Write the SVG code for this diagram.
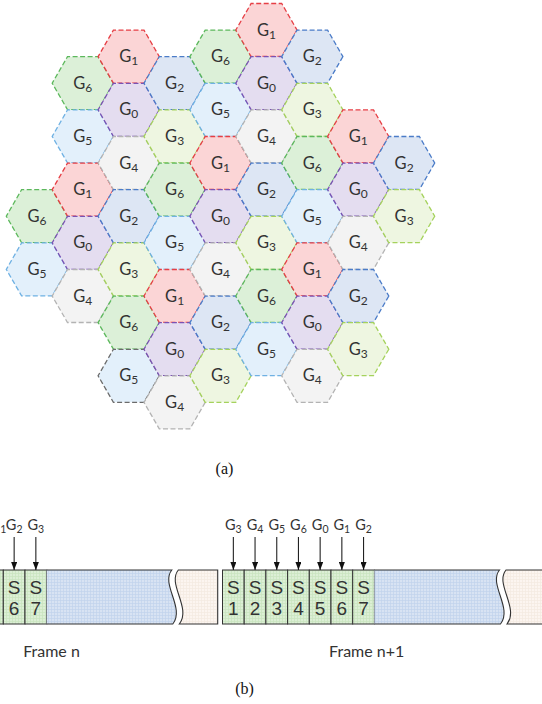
<svg xmlns="http://www.w3.org/2000/svg" xmlns:xlink="http://www.w3.org/1999/xlink" width="542" height="704" viewBox="0 0 542 704">
<style>
.hx{stroke-width:1.3;stroke-dasharray:5 2.5}
.g0{fill:#e4ddf0;stroke:#7a52b3}
.g1{fill:#fbd5d6;stroke:#e63f45}
.g2{fill:#dde6f4;stroke:#4b7cc8}
.g3{fill:#eef6e1;stroke:#a5d25c}
.g4{fill:#f3f3f3;stroke:#b3b3b3}
.g5{fill:#e3f0fb;stroke:#6fb1e3}
.g6{fill:#dcf0d8;stroke:#5cb85c}
.lbl{font-family:Lato,"Liberation Sans",sans-serif;font-size:16.5px;fill:#333;text-anchor:middle}
.sub{font-size:12px}
.glbl{font-family:Lato,"Liberation Sans",sans-serif;font-size:14.5px;fill:#333;text-anchor:middle}
.gsub{font-size:10.5px}
.slot{fill:url(#pg);stroke:#333;stroke-width:1}
.st{font-family:"Liberation Sans",Arial,sans-serif;font-size:19px;fill:#333;text-anchor:middle}
.edge{fill:none;stroke:#333;stroke-width:1.1}
.arr{stroke:#222;stroke-width:1.1;marker-end:url(#ah)}
.cap{font-family:Lato,"Liberation Sans",sans-serif;font-size:16px;fill:#333;text-anchor:middle}
.fig{font-family:"Liberation Serif","Times New Roman",serif;font-size:16px;fill:#111;text-anchor:middle}
</style>
<defs>
<polygon id="hex" points="30.6,0 15.3,26.5 -15.3,26.5 -30.6,0 -15.3,-26.5 15.3,-26.5"/>
<pattern id="pg" width="3" height="3" patternUnits="userSpaceOnUse">
<rect width="3" height="3" fill="#dcefd5"/><path d="M0,0.5H3M0.5,0V3" stroke="#c8e4bf" stroke-width="0.7"/>
</pattern>
<pattern id="pb" width="3" height="3" patternUnits="userSpaceOnUse">
<rect width="3" height="3" fill="#d8e3f3"/><path d="M0,0.5H3M0.5,0V3" stroke="#c2d3ec" stroke-width="0.7"/>
</pattern>
<pattern id="pe" width="3" height="3" patternUnits="userSpaceOnUse">
<rect width="3" height="3" fill="#fcf5f0"/><path d="M0,0.5H3M0.5,0V3" stroke="#f4e9e1" stroke-width="0.7"/>
</pattern>
<marker id="ah" markerWidth="8" markerHeight="6" refX="8" refY="3" orient="auto" markerUnits="userSpaceOnUse">
<path d="M0,0 L8,3 L0,6 z" fill="#111"/>
</marker>
</defs>

<g id="cells">
<g id="c0k7"><use href="#hex" x="36.9" y="216.2" class="hx g6"/><text class="lbl" x="36.9" y="221.7">G<tspan class="sub" dy="3">6</tspan></text></g>
<g id="c0k9"><use href="#hex" x="36.9" y="269.4" class="hx g5"/><text class="lbl" x="36.9" y="274.9">G<tspan class="sub" dy="3">5</tspan></text></g>

<g id="c1k2"><use href="#hex" x="82.8" y="83.2" class="hx g6"/><text class="lbl" x="82.8" y="88.7">G<tspan class="sub" dy="3">6</tspan></text></g>
<g id="c1k4"><use href="#hex" x="82.8" y="136.4" class="hx g5"/><text class="lbl" x="82.8" y="141.9">G<tspan class="sub" dy="3">5</tspan></text></g>
<g id="c1k6"><use href="#hex" x="82.8" y="189.6" class="hx g1"/><text class="lbl" x="82.8" y="195.1">G<tspan class="sub" dy="3">1</tspan></text></g>
<g id="c1k8"><use href="#hex" x="82.8" y="242.8" class="hx g0"/><text class="lbl" x="82.8" y="248.3">G<tspan class="sub" dy="3">0</tspan></text></g>
<g id="c1k10"><use href="#hex" x="82.8" y="296" class="hx g4"/><text class="lbl" x="82.8" y="301.5">G<tspan class="sub" dy="3">4</tspan></text></g>

<g id="c2k1"><use href="#hex" x="128.7" y="56.6" class="hx g1"/><text class="lbl" x="128.7" y="62.1">G<tspan class="sub" dy="3">1</tspan></text></g>
<g id="c2k3"><use href="#hex" x="128.7" y="109.8" class="hx g0"/><text class="lbl" x="128.7" y="115.3">G<tspan class="sub" dy="3">0</tspan></text></g>
<g id="c2k5"><use href="#hex" x="128.7" y="163" class="hx g4"/><text class="lbl" x="128.7" y="168.5">G<tspan class="sub" dy="3">4</tspan></text></g>
<g id="c2k7"><use href="#hex" x="128.7" y="216.2" class="hx g2"/><text class="lbl" x="128.7" y="221.7">G<tspan class="sub" dy="3">2</tspan></text></g>
<g id="c2k9"><use href="#hex" x="128.7" y="269.4" class="hx g3"/><text class="lbl" x="128.7" y="274.9">G<tspan class="sub" dy="3">3</tspan></text></g>
<g id="c2k11"><use href="#hex" x="128.7" y="322.6" class="hx g6"/><text class="lbl" x="128.7" y="328.1">G<tspan class="sub" dy="3">6</tspan></text></g>
<g id="c2k13"><use href="#hex" x="128.7" y="375.8" class="hx g5" style="stroke:#6b6b6b"/><text class="lbl" x="128.7" y="381.3">G<tspan class="sub" dy="3">5</tspan></text></g>

<g id="c3k2"><use href="#hex" x="174.6" y="83.2" class="hx g2"/><text class="lbl" x="174.6" y="88.7">G<tspan class="sub" dy="3">2</tspan></text></g>
<g id="c3k4"><use href="#hex" x="174.6" y="136.4" class="hx g3"/><text class="lbl" x="174.6" y="141.9">G<tspan class="sub" dy="3">3</tspan></text></g>
<g id="c3k6"><use href="#hex" x="174.6" y="189.6" class="hx g6"/><text class="lbl" x="174.6" y="195.1">G<tspan class="sub" dy="3">6</tspan></text></g>
<g id="c3k8"><use href="#hex" x="174.6" y="242.8" class="hx g5"/><text class="lbl" x="174.6" y="248.3">G<tspan class="sub" dy="3">5</tspan></text></g>
<g id="c3k10"><use href="#hex" x="174.6" y="296" class="hx g1"/><text class="lbl" x="174.6" y="301.5">G<tspan class="sub" dy="3">1</tspan></text></g>
<g id="c3k12"><use href="#hex" x="174.6" y="349.2" class="hx g0"/><text class="lbl" x="174.6" y="354.7">G<tspan class="sub" dy="3">0</tspan></text></g>
<g id="c3k14"><use href="#hex" x="174.6" y="402.4" class="hx g4"/><text class="lbl" x="174.6" y="407.9">G<tspan class="sub" dy="3">4</tspan></text></g>

<g id="c4k1"><use href="#hex" x="220.5" y="56.6" class="hx g6"/><text class="lbl" x="220.5" y="62.1">G<tspan class="sub" dy="3">6</tspan></text></g>
<g id="c4k3"><use href="#hex" x="220.5" y="109.8" class="hx g5"/><text class="lbl" x="220.5" y="115.3">G<tspan class="sub" dy="3">5</tspan></text></g>
<g id="c4k5"><use href="#hex" x="220.5" y="163" class="hx g1"/><text class="lbl" x="220.5" y="168.5">G<tspan class="sub" dy="3">1</tspan></text></g>
<g id="c4k7"><use href="#hex" x="220.5" y="216.2" class="hx g0"/><text class="lbl" x="220.5" y="221.7">G<tspan class="sub" dy="3">0</tspan></text></g>
<g id="c4k9"><use href="#hex" x="220.5" y="269.4" class="hx g4"/><text class="lbl" x="220.5" y="274.9">G<tspan class="sub" dy="3">4</tspan></text></g>
<g id="c4k11"><use href="#hex" x="220.5" y="322.6" class="hx g2"/><text class="lbl" x="220.5" y="328.1">G<tspan class="sub" dy="3">2</tspan></text></g>
<g id="c4k13"><use href="#hex" x="220.5" y="375.8" class="hx g3"/><text class="lbl" x="220.5" y="381.3">G<tspan class="sub" dy="3">3</tspan></text></g>

<g id="c5k0"><use href="#hex" x="266.4" y="30" class="hx g1"/><text class="lbl" x="266.4" y="35.5">G<tspan class="sub" dy="3">1</tspan></text></g>
<g id="c5k2"><use href="#hex" x="266.4" y="83.2" class="hx g0"/><text class="lbl" x="266.4" y="88.7">G<tspan class="sub" dy="3">0</tspan></text></g>
<g id="c5k4"><use href="#hex" x="266.4" y="136.4" class="hx g4"/><text class="lbl" x="266.4" y="141.9">G<tspan class="sub" dy="3">4</tspan></text></g>
<g id="c5k6"><use href="#hex" x="266.4" y="189.6" class="hx g2"/><text class="lbl" x="266.4" y="195.1">G<tspan class="sub" dy="3">2</tspan></text></g>
<g id="c5k8"><use href="#hex" x="266.4" y="242.8" class="hx g3"/><text class="lbl" x="266.4" y="248.3">G<tspan class="sub" dy="3">3</tspan></text></g>
<g id="c5k10"><use href="#hex" x="266.4" y="296" class="hx g6"/><text class="lbl" x="266.4" y="301.5">G<tspan class="sub" dy="3">6</tspan></text></g>
<g id="c5k12"><use href="#hex" x="266.4" y="349.2" class="hx g5"/><text class="lbl" x="266.4" y="354.7">G<tspan class="sub" dy="3">5</tspan></text></g>

<g id="c6k1"><use href="#hex" x="312.3" y="56.6" class="hx g2"/><text class="lbl" x="312.3" y="62.1">G<tspan class="sub" dy="3">2</tspan></text></g>
<g id="c6k3"><use href="#hex" x="312.3" y="109.8" class="hx g3"/><text class="lbl" x="312.3" y="115.3">G<tspan class="sub" dy="3">3</tspan></text></g>
<g id="c6k5"><use href="#hex" x="312.3" y="163" class="hx g6"/><text class="lbl" x="312.3" y="168.5">G<tspan class="sub" dy="3">6</tspan></text></g>
<g id="c6k7"><use href="#hex" x="312.3" y="216.2" class="hx g5"/><text class="lbl" x="312.3" y="221.7">G<tspan class="sub" dy="3">5</tspan></text></g>
<g id="c6k9"><use href="#hex" x="312.3" y="269.4" class="hx g1"/><text class="lbl" x="312.3" y="274.9">G<tspan class="sub" dy="3">1</tspan></text></g>
<g id="c6k11"><use href="#hex" x="312.3" y="322.6" class="hx g0"/><text class="lbl" x="312.3" y="328.1">G<tspan class="sub" dy="3">0</tspan></text></g>
<g id="c6k13"><use href="#hex" x="312.3" y="375.8" class="hx g4"/><text class="lbl" x="312.3" y="381.3">G<tspan class="sub" dy="3">4</tspan></text></g>

<g id="c7k4"><use href="#hex" x="358.2" y="136.4" class="hx g1"/><text class="lbl" x="358.2" y="141.9">G<tspan class="sub" dy="3">1</tspan></text></g>
<g id="c7k6"><use href="#hex" x="358.2" y="189.6" class="hx g0"/><text class="lbl" x="358.2" y="195.1">G<tspan class="sub" dy="3">0</tspan></text></g>
<g id="c7k8"><use href="#hex" x="358.2" y="242.8" class="hx g4"/><text class="lbl" x="358.2" y="248.3">G<tspan class="sub" dy="3">4</tspan></text></g>
<g id="c7k10"><use href="#hex" x="358.2" y="296" class="hx g2"/><text class="lbl" x="358.2" y="301.5">G<tspan class="sub" dy="3">2</tspan></text></g>
<g id="c7k12"><use href="#hex" x="358.2" y="349.2" class="hx g3"/><text class="lbl" x="358.2" y="354.7">G<tspan class="sub" dy="3">3</tspan></text></g>

<g id="c8k5"><use href="#hex" x="404.1" y="163" class="hx g2"/><text class="lbl" x="404.1" y="168.5">G<tspan class="sub" dy="3">2</tspan></text></g>
<g id="c8k7"><use href="#hex" x="404.1" y="216.2" class="hx g3"/><text class="lbl" x="404.1" y="221.7">G<tspan class="sub" dy="3">3</tspan></text></g>
</g>

<text id="label-a" class="fig" x="224.5" y="474">(a)</text>

<g id="frame-n">
<rect class="slot" x="-18.4" y="570" width="21.7" height="54"/>
<rect class="slot" x="3.3" y="570" width="21.7" height="54"/>
<rect class="slot" x="25" y="570" width="21.7" height="54"/>
<text class="st" x="14.15" y="594">S</text><text class="st" x="14.15" y="615">6</text>
<text class="st" x="35.85" y="594">S</text><text class="st" x="35.85" y="615">7</text>
<path d="M46.7,570 H171.8 C160.3,584 185.3,608 172.8,624 H46.7 Z" fill="url(#pb)"/>
<path class="edge" d="M46.7,570 H171.8 C160.3,584 185.3,608 172.8,624 H46.7"/>
<path d="M178.3,570 H217.7 V624 H179.3 C191.8,608 166.8,584 178.3,570 Z" class="edge" style="fill:url(#pe)"/>
<text class="cap" x="51.5" y="657">Frame n</text>
</g>

<g id="frame-n1">
<rect class="slot" x="222.5" y="570" width="21.7" height="54"/>
<rect class="slot" x="244.2" y="570" width="21.7" height="54"/>
<rect class="slot" x="265.9" y="570" width="21.7" height="54"/>
<rect class="slot" x="287.6" y="570" width="21.7" height="54"/>
<rect class="slot" x="309.3" y="570" width="21.7" height="54"/>
<rect class="slot" x="331" y="570" width="21.7" height="54"/>
<rect class="slot" x="352.7" y="570" width="21.7" height="54"/>
<text class="st" x="233.35" y="594">S</text><text class="st" x="233.35" y="615">1</text>
<text class="st" x="255.05" y="594">S</text><text class="st" x="255.05" y="615">2</text>
<text class="st" x="276.75" y="594">S</text><text class="st" x="276.75" y="615">3</text>
<text class="st" x="298.45" y="594">S</text><text class="st" x="298.45" y="615">4</text>
<text class="st" x="320.15" y="594">S</text><text class="st" x="320.15" y="615">5</text>
<text class="st" x="341.85" y="594">S</text><text class="st" x="341.85" y="615">6</text>
<text class="st" x="363.55" y="594">S</text><text class="st" x="363.55" y="615">7</text>
<path d="M374.4,570 H499.5 C488,584 513,608 500.5,624 H374.4 Z" fill="url(#pb)"/>
<path class="edge" d="M374.4,570 H499.5 C488,584 513,608 500.5,624 H374.4"/>
<path d="M506,570 H545.4 V624 H507 C519.5,608 494.5,584 506,570 Z" class="edge" style="fill:url(#pe)"/>
<text class="cap" x="366.7" y="657">Frame n+1</text>
</g>

<g id="group-labels">
<text class="glbl gsub" x="0.2" y="532.5" style="text-anchor:start">1</text>
<text class="glbl" x="14.15" y="530">G<tspan class="gsub" dy="2.5">2</tspan></text>
<text class="glbl" x="35.85" y="530">G<tspan class="gsub" dy="2.5">3</tspan></text>
<text class="glbl" x="233.35" y="530">G<tspan class="gsub" dy="2.5">3</tspan></text>
<text class="glbl" x="255.05" y="530">G<tspan class="gsub" dy="2.5">4</tspan></text>
<text class="glbl" x="276.75" y="530">G<tspan class="gsub" dy="2.5">5</tspan></text>
<text class="glbl" x="298.45" y="530">G<tspan class="gsub" dy="2.5">6</tspan></text>
<text class="glbl" x="320.15" y="530">G<tspan class="gsub" dy="2.5">0</tspan></text>
<text class="glbl" x="341.85" y="530">G<tspan class="gsub" dy="2.5">1</tspan></text>
<text class="glbl" x="363.55" y="530">G<tspan class="gsub" dy="2.5">2</tspan></text>
</g>

<g id="connectors">
<line class="arr" x1="14.15" y1="537" x2="14.15" y2="570"/>
<line class="arr" x1="35.85" y1="537" x2="35.85" y2="570"/>
<line class="arr" x1="233.35" y1="537" x2="233.35" y2="570"/>
<line class="arr" x1="255.05" y1="537" x2="255.05" y2="570"/>
<line class="arr" x1="276.75" y1="537" x2="276.75" y2="570"/>
<line class="arr" x1="298.45" y1="537" x2="298.45" y2="570"/>
<line class="arr" x1="320.15" y1="537" x2="320.15" y2="570"/>
<line class="arr" x1="341.85" y1="537" x2="341.85" y2="570"/>
<line class="arr" x1="363.55" y1="537" x2="363.55" y2="570"/>
</g>

<text id="label-b" class="fig" x="244.5" y="694">(b)</text>
</svg>
